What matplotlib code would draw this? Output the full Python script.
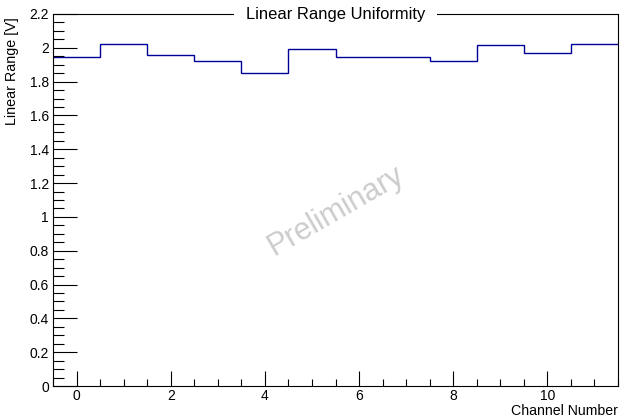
import matplotlib
matplotlib.use("Agg")
import matplotlib.pyplot as plt
import numpy as np
from matplotlib.ticker import MultipleLocator

plt.rcParams["font.family"] = ["Liberation Sans", "DejaVu Sans"]

# ─── Data ─────────────────────────────────────────────────────────────────────
channels = np.arange(12)
linear_range = [1.947, 2.022, 1.959, 1.923, 1.852, 1.992,
                1.947, 1.943, 1.921, 2.016, 1.972, 2.020]

title = "Linear Range Uniformity"
xlabel = "Channel Number"
ylabel = "Linear Range [V]"

# ─── Plot ─────────────────────────────────────────────────────────────────────
fig = plt.figure(figsize=(6.21, 4.18), dpi=100)
ax = fig.add_axes([53 / 621, 1 - 386 / 418, 565 / 621, 372 / 418])

edges = np.append(channels - 0.5, channels[-1] + 0.5)
ax.stairs(linear_range, edges, color="#000099", lw=1.0, baseline=None)

ax.set_xlim(-0.5, 11.5)
ax.set_ylim(0, 2.2)

ax.xaxis.set_major_locator(MultipleLocator(2))
ax.xaxis.set_minor_locator(MultipleLocator(0.5))
ax.yaxis.set_major_locator(MultipleLocator(0.2))
ax.yaxis.set_minor_locator(MultipleLocator(0.05))

ax.tick_params(axis="both", which="both", direction="in", labelsize=10,
               top=False, right=False, color="black", width=0.8)
ax.tick_params(axis="y", which="major", length=17, pad=3)
ax.tick_params(axis="y", which="minor", length=8)
ax.tick_params(axis="x", which="major", length=11, pad=2.5)
ax.tick_params(axis="x", which="minor", length=5)

ax.yaxis.set_major_formatter(plt.FuncFormatter(lambda v, p: f"{v:g}"))

for s in ax.spines.values():
    s.set_linewidth(0.8)

ax.text(0.5, 1.0, title, transform=ax.transAxes, ha="center", va="center",
        fontsize=11.9, bbox=dict(facecolor="white", edgecolor="none", pad=8.6))

fig.text(618 / 621, 1 - 415 / 418, xlabel, ha="right", va="baseline", fontsize=10.2)
fig.text(12 / 621, 1 - 17 / 418, ylabel, ha="center", va="top",
         rotation=90, fontsize=10.3)

ax.text(0.5, 0.47, "Preliminary", transform=ax.transAxes, ha="center",
        va="center", rotation=30, fontsize=22, color="#cccccc")

fig.savefig("out.png", dpi=100)
